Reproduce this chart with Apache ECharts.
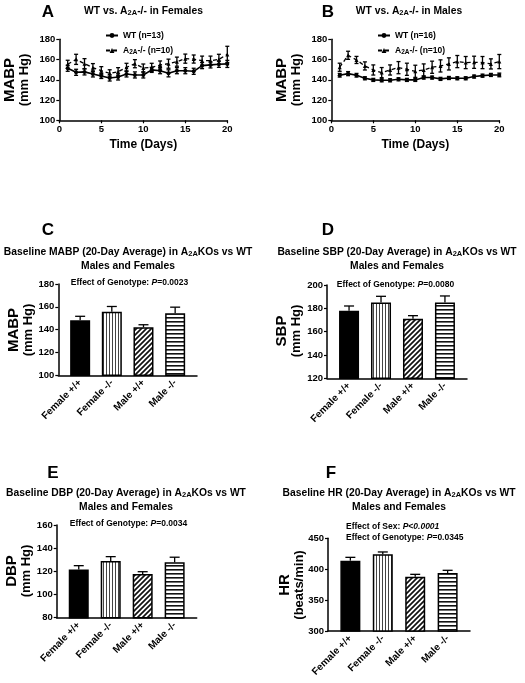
<!DOCTYPE html>
<html><head><meta charset="utf-8">
<script src="https://cdn.jsdelivr.net/npm/echarts@6/dist/echarts.min.js"></script>
<style>html,body{margin:0;padding:0;background:#fff}#c{width:525px;height:683px}</style>
</head><body><div id="c"></div>
<script>
// ---------- data ----------
const days = [1,2,3,4,5,6,7,8,9,10,11,12,13,14,15,16,17,18,19,20];
const wtFemale    = [151.4,147.4,147.8,145.8,143.8,141.8,142.8,145.8,144.8,144.8,149.8,149,146.4,149,149,148.4,154,154.7,155.3,155.7];
const wtFemaleErr = [3,3,3,3,2.5,3,3,3,3,3,2.5,3,3.5,3,3,3,3,3,3,3.5];
const koFemale    = [155.3,160.2,155.9,152,149,146.4,148,152.3,155.9,151.6,152.3,154.6,155.9,157.9,160.9,160.5,158.9,158.9,160.2,165.1];
const koFemaleErr = [4,5,5,4,4,3.5,4,4,4,4,4,4,4.5,4.5,4.5,4,4.5,4.5,5,8];
const wtMale      = [144.5,146.1,144.5,141.5,139.9,139.5,139.5,140.5,139.9,139.9,142.2,142.2,140.9,141.8,141.5,141.5,143.2,144.1,144.8,144.8];
const wtMaleErr   = [1.8,2,1.8,1.5,1.5,1.5,1.5,1.5,1.5,1.5,1.5,1.5,1.5,1.5,1.5,1.5,1.5,1.5,1.5,1.8];
const koMale      = [152.4,164.2,159.6,153.7,149.7,147.1,149.7,152,150.4,148.4,149.7,152.4,153.7,155.7,158,157,157.3,157,155.7,158];
const koMaleErr   = [4,4,3.5,4,5,5,5,6,6,6,6,6,6,6,6,6,6,6,5,7];

const groups = ['Female +/+','Female -/-','Male +/+','Male -/-'];
const mabp    = [148.2,155.6,142.0,154.4];
const mabpErr = [3.5,4.7,2.3,5.3];
const sbp     = [178.0,185.1,171.1,184.9];
const sbpErr  = [4.0,5.2,2.6,5.7];
const dbp     = [121.7,128.9,117.7,127.8];
const dbpErr  = [3.2,3.8,2.0,4.4];
const hr      = [413.8,424.1,387.9,393.9];
const hrErr   = [5.4,3.8,3.8,4.3];

// ---------- helpers ----------
const F = "'Liberation Sans', Arial, Helvetica, sans-serif";
function pattern(type){
  const c = document.createElement('canvas');
  const g = c.getContext('2d');
  if(type==='v'){ c.width=3; c.height=3; g.fillStyle='#fff'; g.fillRect(0,0,3,3); g.fillStyle='#444'; g.fillRect(1,0,1,3); }
  else if(type==='h'){ c.width=4; c.height=4; g.fillStyle='#fff'; g.fillRect(0,0,4,4); g.fillStyle='#111'; g.fillRect(0,1,4,1.6); }
  else { c.width=5; c.height=5; g.fillStyle='#fff'; g.fillRect(0,0,5,5); g.strokeStyle='#111'; g.lineWidth=1.7;
    g.beginPath(); g.moveTo(-1,6); g.lineTo(6,-1); g.moveTo(-1,1); g.lineTo(1,-1); g.moveTo(4,6); g.lineTo(6,4); g.stroke(); }
  return {image:c, repeat:'repeat'};
}
const fills = ['#000', pattern('v'), pattern('d'), pattern('h')];

const gridsPos = [
  {left:59.3, top:39.3, width:168, height:81},
  {left:331.3, top:39.3, width:168, height:81},
  {left:58.3, top:284, width:138.7, height:91.3},
  {left:327, top:285, width:140, height:93.3},
  {left:56.7, top:525, width:140, height:92.7},
  {left:328, top:538.3, width:142, height:92.7}
];
const axLine = {lineStyle:{color:'#000', width:1.5}};
const tick = {show:true, inside:false, length:3, lineStyle:{color:'#000', width:1.2}};
const tickLbl = {color:'#000', fontSize:9.5, fontWeight:'bold', fontFamily:F, margin:4};

const grid = gridsPos.map(g=>Object.assign({containLabel:false, outerBoundsMode:'none'}, g));
const xAxis = [], yAxis = [], series = [];

// line charts
[0,1].forEach(i=>{
  xAxis.push({gridIndex:i, type:'value', min:0, max:20, interval:5, axisLine:axLine, axisTick:tick,
    axisLabel:tickLbl, splitLine:{show:false}, name:'Time (Days)', nameLocation:'middle', nameGap:18,
    nameTextStyle:{color:'#000', fontSize:12, fontWeight:'bold', fontFamily:F}});
  yAxis.push({gridIndex:i, type:'value', min:100, max:180, interval:20, axisLine:Object.assign({show:true},axLine), axisTick:tick,
    axisLabel:tickLbl, splitLine:{show:false}});
});
function errSeries(xi, xs, ys, es, capW, fromMean){
  return {type:'custom', xAxisIndex:xi, yAxisIndex:xi, z:5, silent:true,
    data: xs.map((x,k)=>[x, ys[k], es[k]]),
    renderItem:(params, api)=>{
      const x=api.value(0), y=api.value(1), e=api.value(2);
      const top=api.coord([x, y+e]);
      const bot=api.coord([x, fromMean? y : y-e]);
      const st={stroke:'#000', lineWidth:1.3};
      const ch=[{type:'line', shape:{x1:top[0],y1:top[1],x2:bot[0],y2:bot[1]}, style:st},
                {type:'line', shape:{x1:top[0]-capW/2,y1:top[1],x2:top[0]+capW/2,y2:top[1]}, style:st}];
      if(!fromMean) ch.push({type:'line', shape:{x1:bot[0]-capW/2,y1:bot[1],x2:bot[0]+capW/2,y2:bot[1]}, style:st});
      return {type:'group', children:ch};
    }};
}
const lineSets = [[wtFemale,wtFemaleErr,koFemale,koFemaleErr],[wtMale,wtMaleErr,koMale,koMaleErr]];
lineSets.forEach((s,i)=>{
  series.push({name:'WT'+i, type:'line', xAxisIndex:i, yAxisIndex:i, data:days.map((d,k)=>[d,s[0][k]]),
    symbol:'circle', symbolSize:4, lineStyle:{color:'#000', width:1.6}, itemStyle:{color:'#000'}, z:4});
  series.push({name:'KO'+i, type:'line', xAxisIndex:i, yAxisIndex:i, data:days.map((d,k)=>[d,s[2][k]]),
    symbol:'triangle', symbolSize:4, lineStyle:{color:'#000', width:1.3, type:[4,3]}, itemStyle:{color:'#000'}, z:4});
  series.push(errSeries(i, days, s[0], s[1], 4, false));
  series.push(errSeries(i, days, s[2], s[3], 4, false));
});

// bar charts
const barSets = [
  {v:mabp, e:mabpErr, min:100, max:180, iv:20},
  {v:sbp, e:sbpErr, min:120, max:200, iv:20},
  {v:dbp, e:dbpErr, min:80, max:160, iv:20},
  {v:hr, e:hrErr, min:300, max:450, iv:50}
];
const pos = groups.map((g,k)=>k+1);
barSets.forEach((b,j)=>{
  const i=j+2;
  xAxis.push({gridIndex:i, type:'value', min:0.31, max:4.69, axisLine:axLine, axisTick:{show:false},
    splitLine:{show:false},
    axisLabel:{customValues:pos, rotate:45, color:'#000', fontSize:10, fontWeight:'bold', fontFamily:F, margin:6,
      formatter:(v)=>groups[Math.round(v)-1]||''}});
  yAxis.push({gridIndex:i, type:'value', min:b.min, max:b.max, interval:b.iv, axisLine:Object.assign({show:true},axLine),
    axisTick:tick, axisLabel:tickLbl, splitLine:{show:false}});
  series.push({type:'bar', xAxisIndex:i, yAxisIndex:i, barWidth:20, clip:true,
    data:b.v.map((v,k)=>({value:[pos[k], v], itemStyle:{color:fills[k], borderColor:'#000', borderWidth:1.5}}))});
  series.push(errSeries(i, pos, b.v, b.e, 10, true));
});

// ---------- texts ----------
const rich = {
  t:{fontSize:10.3, fontWeight:'bold', fontFamily:F, color:'#000'},
  s:{fontSize:7.5, fontWeight:'bold', fontFamily:F, color:'#000', verticalAlign:'bottom', padding:[4,0,0,0]},
  a:{fontSize:8.5, fontWeight:'bold', fontFamily:F, color:'#000'},
  ls:{fontSize:6.5, fontWeight:'bold', fontFamily:F, color:'#000', verticalAlign:'bottom', padding:[3,0,0,0]},
  ai:{fontSize:8.5, fontWeight:'bold', fontStyle:'italic', fontFamily:F, color:'#000'}
};
function txt(x,y,text,opt){
  return {type:'text', x:x, y:y, style:Object.assign({text:text, rich:rich, align:'center', verticalAlign:'middle', fill:'#000', font:'bold 10px '+F}, opt||{})};
}
function letter(x,y,l){ return {type:'text', x:x, y:y, style:{text:l, font:'bold 17px '+F, fill:'#000', align:'center', verticalAlign:'middle'}}; }
function yname(x,y,a,b,sa,sb){
  return [
    {type:'text', x:x, y:y, rotation:Math.PI/2, style:{text:a, font:'bold '+sa+'px '+F, fill:'#000', align:'center', verticalAlign:'middle'}},
    {type:'text', x:x+14, y:y, rotation:Math.PI/2, style:{text:b, font:'bold '+sb+'px '+F, fill:'#000', align:'center', verticalAlign:'middle'}}
  ];
}
const graphic = [
  letter(48,12,'A'), letter(328,12,'B'), letter(48,230,'C'), letter(328,230,'D'), letter(53,473,'E'), letter(331,473,'F'),
  txt(143.5,11,'{t|WT vs. A}{s|2A}{t|-/- in Females}'),
  txt(409,11,'{t|WT vs. A}{s|2A}{t|-/- in Males}'),
  txt(128,252,'{t|Baseline MABP (20-Day Average) in A}{s|2A}{t|KOs vs WT}'),
  txt(128,266,'{t|Males and Females}'),
  txt(397,252,'{t|Baseline SBP (20-Day Average) in A}{s|2A}{t|KOs vs WT}'),
  txt(397,266,'{t|Males and Females}'),
  txt(126,493,'{t|Baseline DBP (20-Day Average) in A}{s|2A}{t|KOs vs WT}'),
  txt(126,507,'{t|Males and Females}'),
  txt(399,493,'{t|Baseline HR (20-Day Average) in A}{s|2A}{t|KOs vs WT}'),
  txt(399,507,'{t|Males and Females}'),
  txt(129.5,283,'{a|Effect of Genotype: }{ai|P}{a|=0.0023}'),
  txt(395.5,285,'{a|Effect of Genotype: }{ai|P}{a|=0.0080}'),
  txt(128.5,524,'{a|Effect of Genotype: }{ai|P}{a|=0.0034}'),
  txt(346,527,'{a|Effect of Sex: }{ai|P<0.0001}', {align:'left'}),
  txt(346,538,'{a|Effect of Genotype: }{ai|P}{a|=0.0345}', {align:'left'}),
  ...yname(10,80,'MABP','(mm Hg)',15,13),
  ...yname(282,80,'MABP','(mm Hg)',15,13),
  ...yname(14,330,'MABP','(mm Hg)',15,13),
  ...yname(282,331,'SBP','(mm Hg)',15,13),
  ...yname(12,571,'DBP','(mm Hg)',15,13),
  ...yname(285,585,'HR','(beats/min)',15,13)
];

function legend(left, n1, n2, idx){
  return {orient:'vertical', left:left, top:26, itemWidth:12, itemHeight:6, itemGap:6, selectedMode:false,
    data:['WT'+idx,'KO'+idx],
    formatter:(nm)=> nm.startsWith('WT') ? '{a|WT (n='+n1+')}' : '{a|A}{ls|2A}{a|-/- (n='+n2+')}',
    textStyle:{rich:rich, fontSize:8.5, fontWeight:'bold', fontFamily:F, color:'#000'}};
}

const chart = echarts.init(document.getElementById('c'), null, {renderer:'canvas'});
chart.setOption({
  animation:false,
  backgroundColor:'#fff',
  grid:grid, xAxis:xAxis, yAxis:yAxis, series:series,
  legend:[legend(100,13,10,0), legend(372,16,10,1)],
  graphic:graphic
});
</script></body></html>
